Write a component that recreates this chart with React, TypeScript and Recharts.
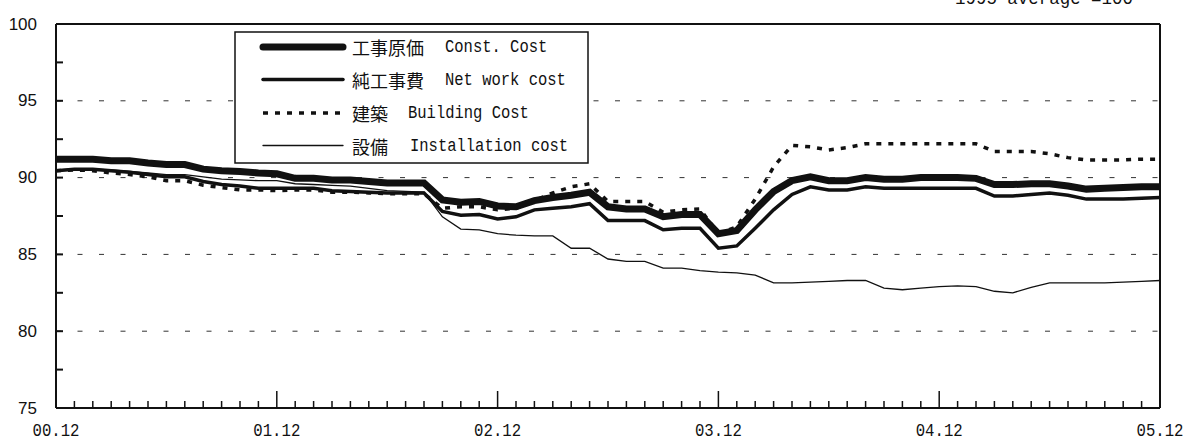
import React from 'react';
import { LineChart, Line, XAxis, YAxis, ReferenceLine } from 'recharts';

// month labels, 2000.12 - 2005.12
const months = [
  '00.12',
  '01.01', '01.02', '01.03', '01.04', '01.05', '01.06', '01.07', '01.08', '01.09', '01.10', '01.11', '01.12',
  '02.01', '02.02', '02.03', '02.04', '02.05', '02.06', '02.07', '02.08', '02.09', '02.10', '02.11', '02.12',
  '03.01', '03.02', '03.03', '03.04', '03.05', '03.06', '03.07', '03.08', '03.09', '03.10', '03.11', '03.12',
  '04.01', '04.02', '04.03', '04.04', '04.05', '04.06', '04.07', '04.08', '04.09', '04.10', '04.11', '04.12',
  '05.01', '05.02', '05.03', '05.04', '05.05', '05.06', '05.07', '05.08', '05.09', '05.10', '05.11', '05.12',
];

const constCost = [
  91.2,
  91.2, 91.2, 91.1, 91.1, 90.95, 90.85, 90.85, 90.55, 90.45, 90.4, 90.3, 90.25,
  89.95, 89.95, 89.85, 89.85, 89.75, 89.65, 89.65, 89.65, 88.55, 88.4, 88.45, 88.15,
  88.1, 88.5, 88.7, 88.85, 89.05, 88.1, 87.95, 87.95, 87.45, 87.6, 87.6, 86.35,
  86.55, 87.9, 89.1, 89.8, 90.05, 89.8, 89.8, 90.0, 89.9, 89.9, 90.0, 90.0,
  90.0, 89.95, 89.55, 89.55, 89.6, 89.6, 89.45, 89.25, 89.3, 89.35, 89.4, 89.4,
];

const netWorkCost = [
  90.45,
  90.55, 90.55, 90.45, 90.35, 90.2, 90.05, 90.05, 89.75, 89.55, 89.45, 89.3, 89.3,
  89.3, 89.3, 89.15, 89.1, 89.05, 89.0, 89.0, 89.0, 87.8, 87.55, 87.6, 87.3,
  87.45, 87.9, 88.0, 88.1, 88.3, 87.2, 87.2, 87.2, 86.6, 86.7, 86.7, 85.4,
  85.55, 86.7, 87.9, 88.9, 89.4, 89.2, 89.2, 89.4, 89.3, 89.3, 89.3, 89.3,
  89.3, 89.3, 88.8, 88.8, 88.9, 89.0, 88.85, 88.6, 88.6, 88.6, 88.65, 88.7,
];

const buildingCost = [
  90.45,
  90.5, 90.45, 90.3, 90.2, 90.05, 89.8, 89.8, 89.5, 89.35, 89.2, 89.2, 89.15,
  89.2, 89.2, 89.05, 89.05, 89.0, 88.95, 88.95, 88.95, 88.0, 88.1, 88.1, 87.9,
  88.0, 88.5, 89.0, 89.4, 89.6, 88.45, 88.45, 88.45, 87.75, 87.9, 87.95, 86.35,
  86.8, 88.6, 90.7, 92.1, 92.0, 91.8, 91.95, 92.2, 92.2, 92.2, 92.2, 92.2,
  92.2, 92.2, 91.7, 91.7, 91.7, 91.55, 91.3, 91.15, 91.15, 91.15, 91.2, 91.2,
];

const installationCost = [
  90.5,
  90.55, 90.55, 90.5, 90.4, 90.3, 90.2, 90.2, 90.05, 89.9, 89.85, 89.8, 89.8,
  89.6, 89.55, 89.5, 89.45, 89.3, 89.15, 89.1, 89.05, 87.45, 86.65, 86.6, 86.35,
  86.25, 86.2, 86.2, 85.4, 85.4, 84.7, 84.55, 84.55, 84.1, 84.1, 83.95, 83.85,
  83.8, 83.65, 83.15, 83.15, 83.2, 83.25, 83.3, 83.3, 82.8, 82.7, 82.8, 82.9,
  82.95, 82.9, 82.6, 82.5, 82.85, 83.15, 83.15, 83.15, 83.15, 83.2, 83.25, 83.3,
];

const yTicks = [75, 77.5, 80, 82.5, 85, 87.5, 90, 92.5, 95, 97.5, 100];
const gridValues = [80, 85, 90, 95];
const yearLabels = ['00.12', '01.12', '02.12', '03.12', '04.12', '05.12'];

const legendItems = [
  { jp: '工事原価', en: 'Const. Cost', enX: 445, width: 7, dash: undefined },
  { jp: '純工事費', en: 'Net work cost', enX: 445, width: 3.5, dash: undefined },
  { jp: '建築', en: 'Building Cost', enX: 408, width: 3.5, dash: '5 7' },
  { jp: '設備', en: 'Installation cost', enX: 410, width: 1.3, dash: undefined },
];

const data = months.map((m, i) => ({
  month: m,
  constCost: constCost[i],
  netWorkCost: netWorkCost[i],
  buildingCost: buildingCost[i],
  installationCost: installationCost[i],
}));

const INK = '#111';
const monoFont = '"Liberation Mono", "DejaVu Sans Mono", monospace';
const jpFont = '"Noto Sans CJK JP", sans-serif';

const YTick = (props: any) => {
  const { x, y, payload } = props;
  const v = payload.value;
  return (
    <g>
      {v !== 75 && v !== 100 && (
        <line x1={x} x2={x + 7} y1={y} y2={y} stroke={INK} strokeWidth={2} />
      )}
      {v % 5 === 0 && (
        <text
          x={x - 19}
          y={y}
          textAnchor="end"
          dominantBaseline="central"
          fontFamily='"Liberation Sans", Arial, sans-serif'
          fontSize={17}
          fill={INK}
        >
          {v}
        </text>
      )}
    </g>
  );
};

const XTick = (props: any) => {
  const { x, y, payload } = props;
  const isYear = yearLabels.includes(payload.value);
  return (
    <g>
      <line x1={x} x2={x} y1={y} y2={y - (isYear ? 17 : 7)} stroke={INK} strokeWidth={1.5} />
      {isYear && (
        <text
          x={x}
          y={y + 23}
          textAnchor="middle"
          dominantBaseline="central"
          fontFamily={monoFont}
          fontSize={18}
          textLength={47}
          lengthAdjust="spacingAndGlyphs"
          fill={INK}
        >
          {payload.value}
        </text>
      )}
    </g>
  );
};

export default function App() {
  return (
    <div style={{ position: 'absolute', left: 0, top: 0, width: 1189, height: 442, background: '#fff' }}>
      <LineChart width={1189} height={442} data={data} margin={{ top: 24, right: 29, left: 0, bottom: 0 }}>
        <XAxis
          dataKey="month"
          interval={0}
          height={34}
          tickSize={0}
          tickMargin={0}
          tick={<XTick />}
          axisLine={{ stroke: INK, strokeWidth: 2 }}
          tickLine={false}
        />
        <YAxis
          type="number"
          domain={[75, 100]}
          ticks={yTicks}
          width={56}
          tickSize={0}
          tickMargin={0}
          tick={<YTick />}
          axisLine={{ stroke: INK, strokeWidth: 2 }}
          tickLine={false}
          interval={0}
        />
        {gridValues.map((g) => (
          <ReferenceLine key={g} y={g} stroke="#333" strokeWidth={1} strokeDasharray="5 16.5" />
        ))}
        <ReferenceLine y={100} stroke={INK} strokeWidth={2} />
        <ReferenceLine x="05.12" stroke={INK} strokeWidth={2} />
        <Line type="linear" dataKey="installationCost" stroke={INK} strokeWidth={1.3} dot={false} isAnimationActive={false} />
        <Line type="linear" dataKey="buildingCost" stroke={INK} strokeWidth={3.5} strokeDasharray="5 7" dot={false} isAnimationActive={false} />
        <Line type="linear" dataKey="netWorkCost" stroke={INK} strokeWidth={3.5} dot={false} isAnimationActive={false} />
        <Line type="linear" dataKey="constCost" stroke={INK} strokeWidth={7} dot={false} isAnimationActive={false} />
      </LineChart>

      {/* header note, cut off at the top edge as in the scan */}
      <svg style={{ position: 'absolute', left: 0, top: 0 }} width={1189} height={20}>
        <text x={955} y={4} fontFamily={monoFont} fontSize={18} textLength={178} lengthAdjust="spacingAndGlyphs" fill={INK}>
          1995 average =100
        </text>
      </svg>

      {/* legend box */}
      <svg style={{ position: 'absolute', left: 0, top: 0, pointerEvents: 'none' }} width={1189} height={200}>
        <rect x={235} y={32} width={353} height={131} fill="#fff" stroke={INK} strokeWidth={1.5} />
        {legendItems.map((item, i) => {
          const cy = [47, 79.5, 113, 145.5][i];
          return (
            <g key={item.jp}>
              <line
                x1={263}
                x2={343}
                y1={cy}
                y2={cy}
                stroke={INK}
                strokeWidth={item.width}
                strokeDasharray={item.dash}
                strokeLinecap={item.dash ? 'butt' : 'round'}
              />
              <text x={352} y={cy} dominantBaseline="central" fontFamily={jpFont} fontSize={18} fill={INK}>
                {item.jp}
              </text>
              <text
                x={item.enX}
                y={cy}
                dominantBaseline="central"
                fontFamily={monoFont}
                fontSize={18}
                textLength={item.en.length * 9.3}
                lengthAdjust="spacingAndGlyphs"
                fill={INK}
              >
                {item.en}
              </text>
            </g>
          );
        })}
      </svg>
    </div>
  );
}
